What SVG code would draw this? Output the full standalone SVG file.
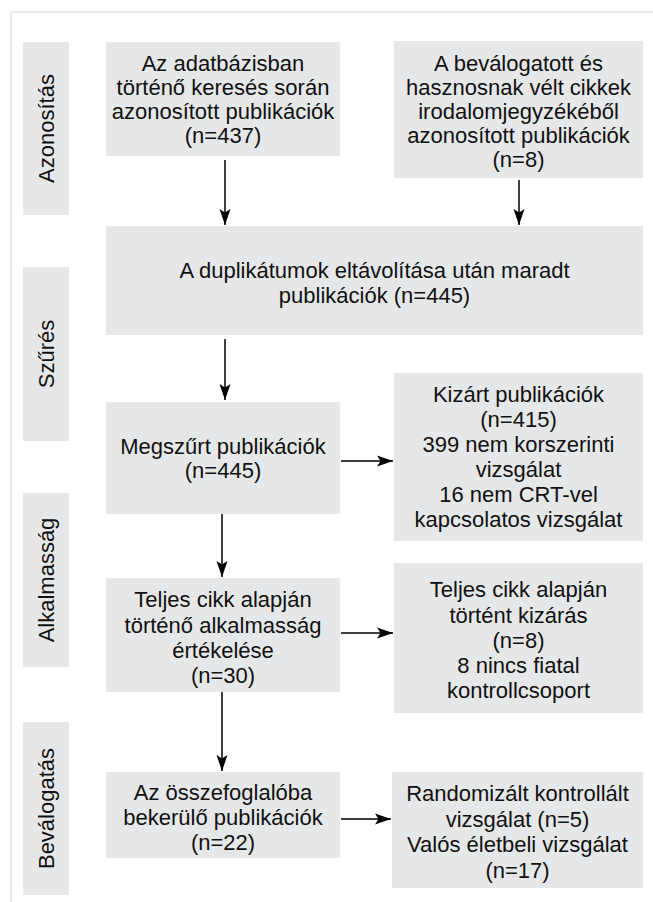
<svg xmlns="http://www.w3.org/2000/svg" width="653" height="902" viewBox="0 0 653 902">
<style>
.box{fill:#e6e7e8;stroke:none}
.t{font-family:"Liberation Sans",Arial,sans-serif;font-size:22px;fill:#111;text-anchor:middle}
.c{stroke:#000;stroke-width:1.5;fill:none}
.frame{stroke:#e2e2e2;stroke-width:1.5;fill:none}
</style>
<defs>
<marker id="ah" markerUnits="userSpaceOnUse" markerWidth="17" markerHeight="12" refX="16" refY="6" orient="auto">
<path d="M0,0.5 L16,6 L0,11.5 L3.5,6 z" fill="#000"/>
</marker>
</defs>
<rect width="653" height="902" fill="#fff"/>
<path class="frame" d="M11,902 V12 H653"/>

<g id="lbl-azonositas">
<rect class="box" x="23" y="42" width="46" height="173"/>
<text class="t" transform="translate(54,128.5) rotate(-90)">Azonosítás</text>
</g>
<g id="lbl-szures">
<rect class="box" x="23" y="267" width="46" height="174"/>
<text class="t" transform="translate(54,354) rotate(-90)">Szűrés</text>
</g>
<g id="lbl-alkalmassag">
<rect class="box" x="23" y="493" width="46" height="174"/>
<text class="t" transform="translate(54,580) rotate(-90)">Alkalmasság</text>
</g>
<g id="lbl-bevalogatas">
<rect class="box" x="23" y="722" width="46" height="173"/>
<text class="t" transform="translate(54,808.5) rotate(-90)">Beválogatás</text>
</g>

<g id="n-adatbazis">
<rect class="box" x="106" y="42" width="234" height="114"/>
<text class="t" x="223" y="71">Az adatbázisban</text>
<text class="t" x="223" y="95">történő keresés során</text>
<text class="t" x="223" y="119">azonosított publikációk</text>
<text class="t" x="223" y="143">(n=437)</text>
</g>
<g id="n-irodalom">
<rect class="box" x="394" y="41" width="249" height="137"/>
<text class="t" x="518.5" y="71">A beválogatott és</text>
<text class="t" x="518.5" y="95">hasznosnak vélt cikkek</text>
<text class="t" x="518.5" y="119">irodalomjegyzékéből</text>
<text class="t" x="518.5" y="143">azonosított publikációk</text>
<text class="t" x="518.5" y="167">(n=8)</text>
</g>
<g id="n-duplikatum">
<rect class="box" x="106" y="226" width="537" height="109"/>
<text class="t" x="374.5" y="278">A duplikátumok eltávolítása után maradt</text>
<text class="t" x="374.5" y="303">publikációk (n=445)</text>
</g>
<g id="n-megszurt">
<rect class="box" x="106" y="402" width="234" height="112"/>
<text class="t" x="223" y="454">Megszűrt publikációk</text>
<text class="t" x="223" y="478">(n=445)</text>
</g>
<g id="n-kizart">
<rect class="box" x="394" y="373" width="249" height="168"/>
<text class="t" x="518.5" y="402">Kizárt publikációk</text>
<text class="t" x="518.5" y="427">(n=415)</text>
<text class="t" x="518.5" y="452">399 nem korszerinti</text>
<text class="t" x="518.5" y="477">vizsgálat</text>
<text class="t" x="518.5" y="502">16 nem CRT-vel</text>
<text class="t" x="518.5" y="527">kapcsolatos vizsgálat</text>
</g>
<g id="n-teljes">
<rect class="box" x="106" y="578" width="234" height="114"/>
<text class="t" x="223" y="607">Teljes cikk alapján</text>
<text class="t" x="223" y="633">történő alkalmasság</text>
<text class="t" x="223" y="658">értékelése</text>
<text class="t" x="223" y="683">(n=30)</text>
</g>
<g id="n-teljes-kizaras">
<rect class="box" x="394" y="563" width="249" height="150"/>
<text class="t" x="518.5" y="597">Teljes cikk alapján</text>
<text class="t" x="518.5" y="622.5">történt kizárás</text>
<text class="t" x="518.5" y="648">(n=8)</text>
<text class="t" x="518.5" y="673">8 nincs fiatal</text>
<text class="t" x="518.5" y="698">kontrollcsoport</text>
</g>
<g id="n-osszefoglalo">
<rect class="box" x="106" y="772" width="234" height="86"/>
<text class="t" x="223" y="800">Az összefoglalóba</text>
<text class="t" x="223" y="825">bekerülő publikációk</text>
<text class="t" x="223" y="850">(n=22)</text>
</g>
<g id="n-randomizalt">
<rect class="box" x="392" y="772" width="251" height="116"/>
<text class="t" x="517.5" y="801">Randomizált kontrollált</text>
<text class="t" x="517.5" y="826.5">vizsgálat (n=5)</text>
<text class="t" x="517.5" y="852">Valós életbeli vizsgálat</text>
<text class="t" x="517.5" y="878">(n=17)</text>
</g>

<g id="connectors">
<line class="c" x1="225" y1="160" x2="225" y2="225" marker-end="url(#ah)"/>
<line class="c" x1="519" y1="180" x2="519" y2="225" marker-end="url(#ah)"/>
<line class="c" x1="225" y1="339" x2="225" y2="400" marker-end="url(#ah)"/>
<line class="c" x1="341" y1="461" x2="393" y2="461" marker-end="url(#ah)"/>
<line class="c" x1="222" y1="514" x2="222" y2="577" marker-end="url(#ah)"/>
<line class="c" x1="341" y1="633" x2="393" y2="633" marker-end="url(#ah)"/>
<line class="c" x1="222" y1="692" x2="222" y2="771" marker-end="url(#ah)"/>
<line class="c" x1="341" y1="819" x2="391" y2="819" marker-end="url(#ah)"/>
</g>
</svg>
